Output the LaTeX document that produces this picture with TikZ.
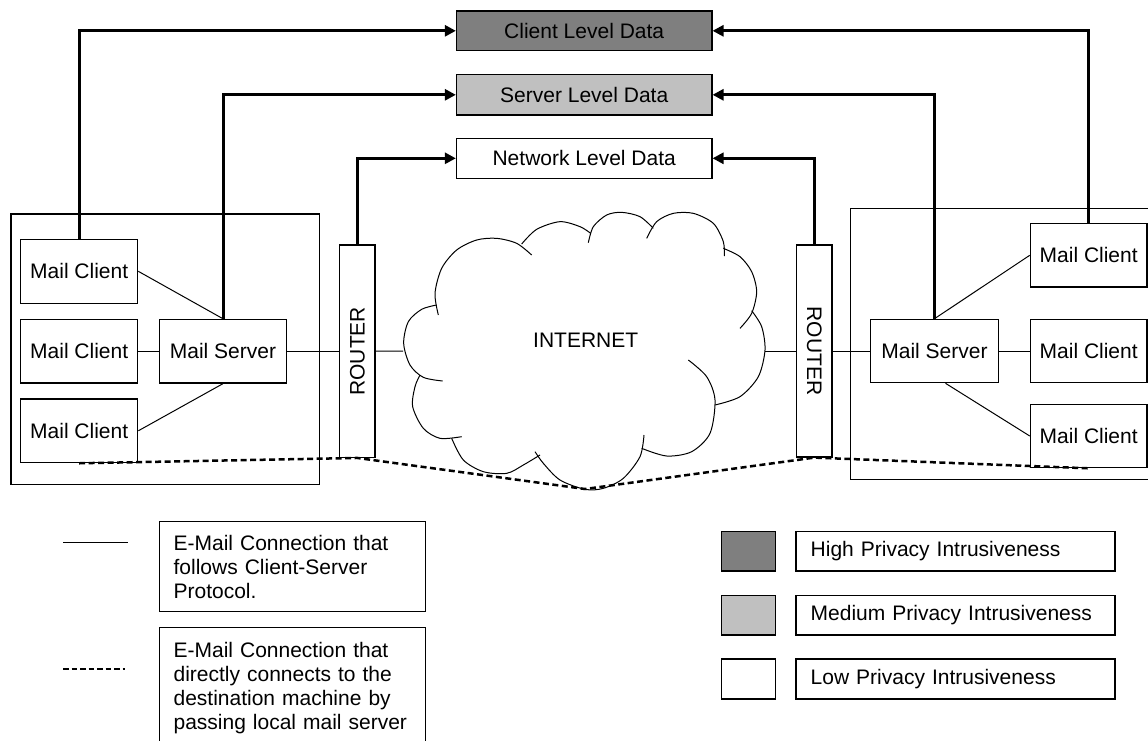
\documentclass[tikz,border=0pt]{standalone}
\usepackage{fontspec}
\setmainfont{Liberation Sans}
\usepackage{graphicx}
\usetikzlibrary{arrows.meta,calc}
\newcommand{\diagfont}{\fontsize{21}{24}\selectfont}
\definecolor{highgray}{HTML}{7F7F7F}
\definecolor{medgray}{HTML}{C0C0C0}
\begin{document}
\begin{tikzpicture}[x=1pt,y=-1pt,
  box/.style={draw,line width=1.2pt,fill=white,inner sep=0pt,font=\diagfont},
  grp/.style={draw,line width=1.2pt,inner sep=0pt},
  conn/.style={line width=1pt},
  uparrow/.style={line width=3pt,-{Triangle[length=11pt,width=11pt]}},
  dashline/.style={line width=2.5pt,dash pattern=on 6pt off 3.5pt},
  bump/.style={line width=1pt}
]
\useasboundingbox (0,0) rectangle (1148,740);

% group frames
\node[grp,minimum width=308.7,minimum height=270.7,anchor=north west] (lgrp) at (10.3,213.3) {};
\node[grp,minimum width=320,minimum height=271,anchor=north west] (rgrp) at (849.7,207.7) {};

% top data boxes
\node[box,fill=highgray,minimum width=255.5,minimum height=39.7] (cl) at (584.2,30.8) {Client Level Data};
\node[box,fill=medgray,minimum width=255.5,minimum height=40.3] (sl) at (584.2,94.8) {Server Level Data};
\node[box,minimum width=255.5,minimum height=40] (nl) at (584.2,158.3) {Network Level Data};

% left site
\node[box,minimum width=117,minimum height=64] (lc1) at (79.2,271.3) {Mail Client};
\node[box,minimum width=117,minimum height=63.7] (lc2) at (79.2,351.2) {Mail Client};
\node[box,minimum width=117,minimum height=63.7] (lc3) at (79.2,430.8) {Mail Client};
\node[box,minimum width=127.4,minimum height=63.7] (ls) at (223,351.2) {Mail Server};
\node[box,minimum width=35.3,minimum height=212.3] (lr) at (357.3,351.2) {\rotatebox{90}{ROUTER}};

% right site
\node[box,minimum width=127.6,minimum height=63.4] (rs) at (934.5,351) {Mail Server};
\node[box,minimum width=116.7,minimum height=63.3] (rc1) at (1088.7,255.3) {Mail Client};
\node[box,minimum width=116.7,minimum height=63.4] (rc2) at (1088.7,351) {Mail Client};
\node[box,minimum width=116.7,minimum height=63.4] (rc3) at (1088.7,436) {Mail Client};
\node[box,minimum width=35.3,minimum height=212] (rr) at (814.3,351) {\rotatebox{-90}{ROUTER}};

% cloud
\begin{scope}[shift={(380,180)},scale=1/3]
\draw[bump] plot[smooth] coordinates {(188,603) (130,592) (90,555) (71,490) (85,425) (125,388) (170,375)};
\draw[bump] plot[smooth] coordinates {(175,405) (165,340) (185,265) (230,210) (290,180) (350,175) (410,190) (455,225)};
\draw[bump] plot[smooth] coordinates {(425,192) (470,148) (540,125) (600,140) (632,160)};
\draw[bump] plot[smooth] coordinates {(625,188) (640,140) (680,105) (725,97) (780,110) (820,145)};
\draw[bump] plot[smooth] coordinates {(800,175) (830,125) (880,100) (940,100) (1000,130) (1030,185) (1033,228)};
\draw[bump] plot[smooth] coordinates {(1030,205) (1080,230) (1115,275) (1130,335) (1115,400) (1080,445)};
\draw[bump] plot[smooth] coordinates {(1115,392) (1145,440) (1155,510) (1135,590) (1080,650) (1005,675)};
\draw[bump] plot[smooth] coordinates {(925,540) (980,590) (1005,660) (990,760) (935,815) (860,828) (785,805)};
\draw[bump] plot[smooth] coordinates {(792,765) (780,830) (730,895) (670,925) (615,928) (540,900) (490,850) (465,815)};
\draw[bump] plot[smooth] coordinates {(480,825) (430,855) (380,880) (310,875) (250,840) (215,775)};
\draw[bump] plot[smooth] coordinates {(245,770) (180,775) (130,745) (98,680) (105,620) (120,585)};
\end{scope}
\node[font=\diagfont,inner sep=0pt] (inet) at (585.7,340) {INTERNET};
\coordinate (cw) at (403,351);
\coordinate (ce) at (765,351);
\coordinate (cb) at (585,489);

% thick arrows to data boxes
\draw[uparrow] (lc1.north) |- (cl.west);
\draw[uparrow] (ls.north) |- (sl.west);
\draw[uparrow] (lr.north) |- (nl.west);
\draw[uparrow] (rc1.north) |- (cl.east);
\draw[uparrow] (rs.north) |- (sl.east);
\draw[uparrow] (rr.north) |- (nl.east);

% thin connections
\draw[conn] (lc1.east) -- (ls.north);
\draw[conn] (lc2.east) -- (ls.west);
\draw[conn] (lc3.east) -- (ls.south);
\draw[conn] (ls.east) -- (lr.west);
\draw[conn] (lr.east) -- (cw);
\draw[conn] (ce) -- (rr.west);
\draw[conn] (rr.east) -- (rs.west);
\draw[conn] (rs.north) -- (rc1.west);
\draw[conn] (rs.east) -- (rc2.west);
\draw[conn] ([xshift=11pt]rs.south) -- (rc3.west);

% direct connection (dashed)
\draw[dashline] (lc3.south) -- (lr.south) -- (cb) -- (rr.south) -- (rc3.south);

% legend left
\coordinate (lsa) at (63,542);
\coordinate (lsb) at (128,542);
\draw[conn] (lsa) -- (lsb);
\coordinate (lda) at (63,669);
\coordinate (ldb) at (125,669);
\draw[line width=2.2pt,dash pattern=on 5.5pt off 3pt] (lda) -- (ldb);
\node[box,align=left,text width=238,inner xsep=14,minimum height=90,anchor=north west] (lg1) at (159,521) {E-Mail Connection that\\follows Client-Server\\Protocol.};
\node[box,align=left,text width=238,inner xsep=14,minimum height=120,anchor=north west] (lg2) at (159,627) {E-Mail Connection that\\directly connects to the\\destination machine by\\passing local mail server};

% legend right
\node[box,fill=highgray,minimum width=53.6,minimum height=39.3] (sw1) at (748.5,551.3) {};
\node[box,fill=medgray,minimum width=53.6,minimum height=39.3] (sw2) at (748.5,615.3) {};
\node[box,minimum width=53.6,minimum height=40] (sw3) at (748.5,679) {};
\node[box,align=left,text width=289.6,inner xsep=14.7,minimum height=39.3] (lt1) at (955.5,551.3) {High Privacy Intrusiveness};
\node[box,align=left,text width=289.6,inner xsep=14.7,minimum height=39.3] (lt2) at (955.5,615.3) {Medium Privacy Intrusiveness};
\node[box,align=left,text width=289.6,inner xsep=14.7,minimum height=40] (lt3) at (955.5,679) {Low Privacy Intrusiveness};
\end{tikzpicture}
\end{document}
